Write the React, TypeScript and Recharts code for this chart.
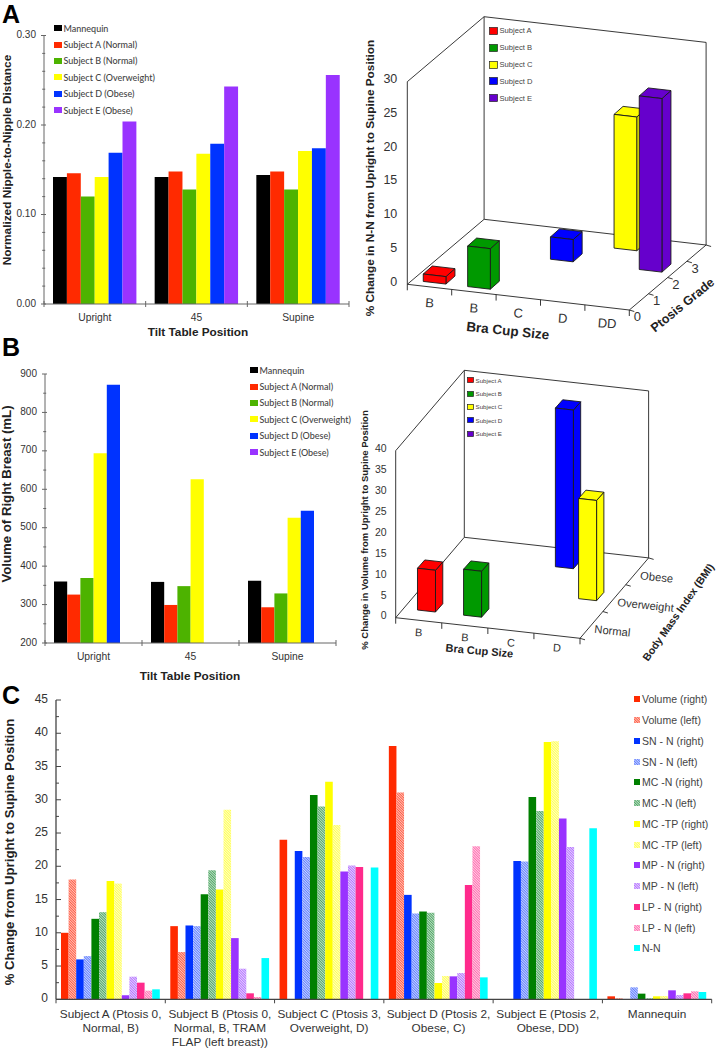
import React from 'react';
import { Bar, BarChart, Legend, XAxis, YAxis } from 'recharts';

const SANS = '"Liberation Sans", Arial, sans-serif';
const LEGEND_FONT = 'Lato, "Open Sans", sans-serif';

// panels A and B, left side
const POSITIONS = ['Upright', '45', 'Supine'];
const SUBJECTS = ['Mannequin', 'Subject A (Normal)', 'Subject B (Normal)', 'Subject C (Overweight)', 'Subject D (Obese)', 'Subject E (Obese)'];
const SUBJECT_COLORS = ['#000000', '#ff2a00', '#4db300', '#ffff00', '#0033ff', '#9933ff'];

const nnMannequin = [0.142, 0.142, 0.144];
const nnSubjectA = [0.146, 0.148, 0.148];
const nnSubjectB = [0.12, 0.128, 0.128];
const nnSubjectC = [0.142, 0.168, 0.171];
const nnSubjectD = [0.169, 0.179, 0.174];
const nnSubjectE = [0.204, 0.243, 0.256];
const NN_TICKS = [0, 0.02, 0.04, 0.06, 0.08, 0.1, 0.12, 0.14, 0.16, 0.18, 0.2, 0.22, 0.24, 0.26, 0.28, 0.3];
const NN_MAJOR = [0, 0.1, 0.2, 0.3];

const volMannequin = [360, 359, 362];
const volSubjectA = [326, 299, 293];
const volSubjectB = [369, 348, 329];
const volSubjectC = [694, 626, 526];
const volSubjectD = [872, null, 544];
const volSubjectE = [null, null, null];
const VOL_TICKS = [200, 250, 300, 350, 400, 450, 500, 550, 600, 650, 700, 750, 800, 850, 900];
const VOL_MAJOR = [200, 300, 400, 500, 600, 700, 800, 900];

// panel C
const CHANGE_GROUPS = [
  'Subject A (Ptosis 0,\nNormal, B)',
  'Subject B (Ptosis 0,\nNormal, B, TRAM\nFLAP (left breast))',
  'Subject C (Ptosis 3,\nOverweight, D)',
  'Subject D (Ptosis 2,\nObese, C)',
  'Subject E (Ptosis 2,\nObese, DD)',
  'Mannequin',
];
const MEASURES = ['Volume (right)', 'Volume (left)', 'SN - N (right)', 'SN - N (left)', 'MC -N (right)', 'MC -N (left)', 'MC -TP (right)', 'MC -TP (left)', 'MP - N (right)', 'MP - N (left)', 'LP - N (right)', 'LP - N (left)', 'N-N'];
const MEASURE_FILLS = ['#ff2a00', 'url(#hatch-red)', '#0033ff', 'url(#hatch-blue)', '#008000', 'url(#hatch-green)', '#ffff00', 'url(#hatch-yellow)', '#9933ff', 'url(#hatch-purple)', '#ff2a8c', 'url(#hatch-pink)', '#00ffff'];
const HATCHES = [
  ['hatch-red', '#ff5a44', '#ffc4b8'],
  ['hatch-blue', '#5f7dff', '#c9d4ff'],
  ['hatch-green', '#4fa565', '#bfe0c6'],
  ['hatch-yellow', '#ffff55', '#ffffc4'],
  ['hatch-purple', '#b473ff', '#e6d2ff'],
  ['hatch-pink', '#ff6db0', '#ffcfe4'],
];

const volumeRight = [10, 11, 24, 38.1, null, 0.45];
const volumeLeft = [18, 7.1, null, 31.1, null, 0.15];
const snRight = [6, 11.1, 22.3, 15.7, 20.8, 0.05];
const snLeft = [6.5, 11, 21.4, 12.9, 20.7, 1.8];
const mcRight = [12.1, 15.8, 30.7, 13.2, 30.4, 0.85];
const mcLeft = [13.1, 19.4, 29, 13, 28.3, 0.15];
const tpRight = [17.8, 16.5, 32.7, 2.45, 38.7, 0.45];
const tpLeft = [17.4, 28.5, 26.2, 3.5, 38.8, 0.5];
const mpRight = [0.6, 9.2, 19.2, 3.45, 27.2, 1.35];
const mpLeft = [3.4, 4.6, 20.1, 3.95, 22.9, 0.65];
const lpRight = [2.5, 0.9, 19.9, 17.2, null, 0.9];
const lpLeft = [1.3, 0.35, null, 23, null, 1.2];
const nnChange = [1.5, 6.2, 19.8, 3.3, 25.7, 1.1];
const CHANGE_TICKS = [0, 2.5, 5, 7.5, 10, 12.5, 15, 17.5, 20, 22.5, 25, 27.5, 30, 32.5, 35, 37.5, 40, 42.5, 45];
const CHANGE_MAJOR = [0, 5, 10, 15, 20, 25, 30, 35, 40, 45];

// 3D panels
const SUBJECT_KEY = ['Subject A', 'Subject B', 'Subject C', 'Subject D', 'Subject E'];
const SUBJECT_KEY_COLORS = ['#ff0000', '#009900', '#ffff00', '#0000ff', '#6600cc'];

const ptosisCups = ['B', 'B', 'C', 'D', 'DD'];
const ptosisChange = [1.1, 6, 3.3, 19.8, 25.7];
const ptosisLevel = [0, 0, 2, 3, 2];
const ptosisColors = ['#ff0000', '#009900', '#0000ff', '#ffff00', '#6600cc'];
const PTOSIS_GRADES = ['0', '1', '2', '3'];
const PTOSIS_TICKS = [0, 5, 10, 15, 20, 25, 30];

const bmiCups = ['B', 'B', 'C', 'D'];
const bmiChange = [10, 11, 38, 24];
const bmiLevel = [0, 0, 2, 1];
const bmiColors = ['#ff0000', '#009900', '#0000ff', '#ffff00'];
const BMI_GRADES = ['Normal', 'Overweight', 'Obese'];
const BMI_TICKS = [0, 5, 10, 15, 20, 25, 30, 35, 40];

const makeRows = (groups: string[], series: (number | null)[][]) =>
  groups.map((group, i) => {
    const row: any = { group };
    series.forEach((values, j) => {
      row[`s${j}`] = values[i];
    });
    return row;
  });

const Title = ({ x, y, angle = 0, size, children }: any) => (
  <text
    x={x}
    y={y}
    textAnchor="middle"
    dominantBaseline="middle"
    transform={angle ? `rotate(${angle} ${x} ${y})` : undefined}
    fontFamily={SANS}
    fontWeight="bold"
    fontSize={size}
    fill="#222"
  >
    {children}
  </text>
);

const SwatchLegend = ({ payload, rowHeight, swatchW, swatchH, gap, font, size, color, weight }: any) => (
  <div style={{ fontFamily: font, fontSize: size, color, fontWeight: weight, whiteSpace: 'nowrap' }}>
    {payload.map((entry: any) => (
      <div key={entry.value} style={{ display: 'flex', alignItems: 'center', height: rowHeight }}>
        <svg width={swatchW} height={swatchH} style={{ marginRight: gap, display: 'block' }}>
          <rect width={swatchW} height={swatchH} fill={entry.color} />
        </svg>
        {entry.value}
      </div>
    ))}
  </div>
);

const FlatChart = ({ width, height, plot, rows, names, fills, domain, ticks, major, format, barSize, legend, legendBox, tickStyle, children }: any) => {
  const band = (plot.right - plot.left) / rows.length;
  const yTick = ({ x, y, payload }: any) => {
    const isMajor = major.includes(payload.value);
    return (
      <g>
        <line
          x1={x + tickStyle.yIn * (isMajor ? 1 : 0.6)}
          x2={x - tickStyle.yOut * (isMajor ? 1 : 0.6)}
          y1={y}
          y2={y}
          stroke={tickStyle.color}
        />
        {isMajor && (
          <text x={x - tickStyle.yGap} y={y} textAnchor="end" dominantBaseline="middle" fontFamily={SANS} fontSize={tickStyle.yFont} fill="#333">
            {format(payload.value)}
          </text>
        )}
      </g>
    );
  };
  const xTick = ({ x, y, payload, index }: any) => (
    <g>
      <line x1={x - band / 2} x2={x - band / 2} y1={y - tickStyle.xUp} y2={y + tickStyle.xDown} stroke={tickStyle.color} />
      {index === rows.length - 1 && (
        <line x1={x + band / 2} x2={x + band / 2} y1={y - tickStyle.xUp} y2={y + tickStyle.xDown} stroke={tickStyle.color} />
      )}
      <text textAnchor="middle" fontFamily={SANS} fontSize={tickStyle.xFont} fill="#333">
        {String(payload.value)
          .split('\n')
          .map((line, i) => (
            <tspan key={line} x={x} y={y + tickStyle.xBase + i * tickStyle.xLine}>
              {line}
            </tspan>
          ))}
      </text>
    </g>
  );
  return (
    <BarChart
      width={width}
      height={height}
      data={rows}
      barGap={0}
      barSize={barSize}
      margin={{ top: plot.top, right: width - plot.right, bottom: 0, left: 0 }}
    >
      {children}
      <XAxis
        dataKey="group"
        height={height - plot.bottom}
        interval={0}
        tickSize={0}
        tickMargin={0}
        tickLine={false}
        tick={xTick}
        axisLine={{ stroke: tickStyle.color, strokeWidth: tickStyle.axisWidth }}
      />
      <YAxis
        type="number"
        width={plot.left}
        domain={domain}
        ticks={ticks}
        interval={0}
        tickSize={0}
        tickMargin={0}
        tickLine={false}
        tick={yTick}
        axisLine={{ stroke: tickStyle.color, strokeWidth: tickStyle.axisWidth }}
      />
      <Legend
        layout="vertical"
        align="center"
        verticalAlign="middle"
        itemSorter={null}
        wrapperStyle={legendBox}
        content={(props: any) => <SwatchLegend {...props} {...legend} />}
      />
      {names.map((name: string, i: number) => (
        <Bar key={name} dataKey={`s${i}`} name={name} fill={fills[i]} isAnimationActive={false} />
      ))}
    </BarChart>
  );
};

const Box3D = ({ x, y, width, height, index, view, levels, colors }: any) => {
  const center = x + width / 2;
  const slope = view.drop / view.width;
  const lvl = levels[index] + 0.5;
  const floorX = center + lvl * view.depth[0];
  const floorY = y + height + (center - view.x) * slope + lvl * view.depth[1];
  const bw = view.boxWidth;
  const [bx, by] = view.boxDepth;
  const fx = floorX - bw / 2 - bx / 2;
  const fy = floorY - (bw / 2) * slope - by / 2;
  const rx = fx + bw;
  const ry = fy + bw * slope;
  const h = height;
  const common = { fill: colors[index], stroke: '#1a1a1a', strokeWidth: 0.9, strokeLinejoin: 'round' as const };
  return (
    <g>
      <polygon {...common} points={`${rx},${ry} ${rx + bx},${ry + by} ${rx + bx},${ry + by - h} ${rx},${ry - h}`} />
      <polygon {...common} points={`${fx},${fy - h} ${rx},${ry - h} ${rx + bx},${ry + by - h} ${fx + bx},${fy + by - h}`} />
      <polygon {...common} points={`${fx},${fy} ${rx},${ry} ${rx},${ry - h} ${fx},${fy - h}`} />
    </g>
  );
};

const Frame3D = ({ view, grades }: any) => {
  const { x, y, top, width, drop, depth } = view;
  const tall = y - top;
  const n = grades.length;
  const bx = x + depth[0] * n;
  const by = y + depth[1] * n;
  const rx = x + width;
  const ry = y + drop;
  const edges = [
    [x, y, x, top],
    [x, y, bx, by],
    [bx, by, bx, by - tall],
    [x, top, bx, by - tall],
    [bx, by - tall, bx + width, by + drop - tall],
    [bx + width, by + drop - tall, bx + width, by + drop],
    [bx, by, bx + width, by + drop],
    [x, y, rx, ry],
    [rx, ry, bx + width, by + drop],
  ];
  return (
    <g>
      {edges.map((e, i) => (
        <line key={i} x1={e[0]} y1={e[1]} x2={e[2]} y2={e[3]} stroke="#222" strokeWidth={0.9} />
      ))}
      {[...grades, ''].map((_: string, i: number) => (
        <line
          key={i}
          x1={rx + i * depth[0]}
          y1={ry + i * depth[1]}
          x2={rx + i * depth[0] + 5}
          y2={ry + i * depth[1] + 1.5}
          stroke="#222"
          strokeWidth={0.9}
        />
      ))}
      {grades.map((grade: string, i: number) => {
        const gx = rx + (i + 0.5) * depth[0] + view.gradeOffset[0];
        const gy = ry + (i + 0.5) * depth[1] + view.gradeOffset[1];
        return (
          <text
            key={grade}
            x={gx}
            y={gy}
            textAnchor={view.gradeAnchor}
            dominantBaseline="middle"
            transform={view.gradeAngle ? `rotate(${view.gradeAngle} ${gx} ${gy})` : undefined}
            fontFamily={SANS}
            fontSize={view.gradeFont}
            fill="#333"
          >
            {grade}
          </text>
        );
      })}
    </g>
  );
};

const KeyList = ({ box }: any) => (
  <div style={{ fontFamily: SANS, fontSize: box.font, color: '#444', whiteSpace: 'nowrap' }}>
    {SUBJECT_KEY.map((name, i) => (
      <div key={name} style={{ display: 'flex', alignItems: 'center', height: box.row }}>
        <svg width={box.swatch} height={box.swatch - 1} style={{ marginRight: box.gap, display: 'block' }}>
          <rect x={0.5} y={0.5} width={box.swatch - 1} height={box.swatch - 2} fill={SUBJECT_KEY_COLORS[i]} stroke="#222" strokeWidth={0.7} />
        </svg>
        {name}
      </div>
    ))}
  </div>
);

const Chart3D = ({ width, height, view, cups, values, levels, colors, grades, ticks, box, barSize, children }: any) => {
  const slope = view.drop / view.width;
  const band = view.width / cups.length;
  const rows = cups.map((cup: string, i: number) => ({ cup, change: values[i] }));
  const yTick = ({ x, y, payload }: any) => (
    <text x={x - view.yGap} y={y - view.yLift} textAnchor="end" dominantBaseline="middle" fontFamily={SANS} fontSize={view.yFont} fill="#333">
      {payload.value}
    </text>
  );
  const xTick = ({ x, y, payload, index }: any) => {
    const lx = x - band / 2;
    const ly = y + (lx - view.x) * slope;
    const cy = y + (x - view.x) * slope + view.cupGap;
    return (
      <g>
        <line x1={lx} x2={lx} y1={ly} y2={ly + 6} stroke="#222" strokeWidth={0.9} />
        {index === cups.length - 1 && (
          <line x1={lx + band} x2={lx + band} y1={ly + band * slope} y2={ly + band * slope + 6} stroke="#222" strokeWidth={0.9} />
        )}
        <text x={x} y={cy} textAnchor="middle" dominantBaseline="middle" transform={`rotate(4 ${x} ${cy})`} fontFamily={SANS} fontSize={view.cupFont} fill="#333">
          {payload.value}
        </text>
      </g>
    );
  };
  return (
    <BarChart
      width={width}
      height={height}
      data={rows}
      barSize={barSize}
      margin={{ top: view.top, right: width - view.x - view.width, bottom: 0, left: 0 }}
    >
      <Frame3D view={view} grades={grades} />
      <XAxis dataKey="cup" height={height - view.y} interval={0} tickSize={0} tickMargin={0} tickLine={false} axisLine={false} tick={xTick} />
      <YAxis
        type="number"
        width={view.x}
        domain={[0, ticks[ticks.length - 1]]}
        ticks={ticks}
        interval={0}
        tickSize={0}
        tickMargin={0}
        tickLine={false}
        axisLine={false}
        tick={yTick}
      />
      <Legend
        layout="vertical"
        align="center"
        verticalAlign="middle"
        wrapperStyle={{ left: box.left, top: box.top, width: 70 }}
        content={() => <KeyList box={box} />}
      />
      <Bar
        dataKey="change"
        isAnimationActive={false}
        shape={(props: any) => <Box3D {...props} view={view} levels={levels} colors={colors} />}
      />
      {children}
    </BarChart>
  );
};

const panel = (left: number, top: number): React.CSSProperties => ({ position: 'absolute', left, top });
const letter = (top: number): React.CSSProperties => ({
  position: 'absolute',
  left: 2,
  top,
  fontFamily: SANS,
  fontWeight: 'bold',
  fontSize: 25,
  lineHeight: '29px',
  color: '#000',
});

const topTickStyle = { color: '#666', axisWidth: 1, yIn: 2, yOut: 3, yGap: 8, yFont: 10, xUp: 3, xDown: 3, xFont: 10.3, xBase: 17, xLine: 13 };
const changeTickStyle = { color: '#444', axisWidth: 1.3, yIn: 5, yOut: 0, yGap: 8, yFont: 12, xUp: 0, xDown: 4, xFont: 11.8, xBase: 19, xLine: 14 };
const topLegend = { rowHeight: 16.4, swatchW: 8, swatchH: 6, gap: 1.5, font: LEGEND_FONT, size: 9, color: '#444', weight: 500 };
const changeLegend = { rowHeight: 20.75, swatchW: 6, swatchH: 6, gap: 2, font: SANS, size: 10.5, color: '#444', weight: 400 };

const ptosisView = {
  x: 57.3, y: 284.3, top: 81.7, width: 222, drop: 25.7, depth: [19.2, -16.25],
  boxWidth: 22.7, boxDepth: [9, -8], yGap: 10, yLift: 2, yFont: 12.5, cupFont: 13, cupGap: 17,
  gradeOffset: [-1.5, 16], gradeAnchor: 'middle', gradeAngle: 0, gradeFont: 13,
};
const bmiView = {
  x: 45.7, y: 277.7, top: 110.7, width: 184.3, drop: 20.6, depth: [22.87, -26.8],
  boxWidth: 18, boxDepth: [7.3, -8.3], yGap: 9, yLift: 1, yFont: 10.5, cupFont: 11, cupGap: 13,
  gradeOffset: [3, 5], gradeAnchor: 'start', gradeAngle: 6, gradeFont: 11.2,
};

export default function App() {
  const nnRows = makeRows(POSITIONS, [nnMannequin, nnSubjectA, nnSubjectB, nnSubjectC, nnSubjectD, nnSubjectE]);
  const volRows = makeRows(POSITIONS, [volMannequin, volSubjectA, volSubjectB, volSubjectC, volSubjectD, volSubjectE]);
  const changeRows = makeRows(CHANGE_GROUPS, [volumeRight, volumeLeft, snRight, snLeft, mcRight, mcLeft, tpRight, tpLeft, mpRight, mpLeft, lpRight, lpLeft, nnChange]);
  return (
    <div style={{ position: 'absolute', left: 0, top: 0, width: 716, height: 1050, background: '#fff', overflow: 'hidden' }}>
      <div style={panel(0, 0)}>
        <FlatChart
          width={350}
          height={344}
          plot={{ left: 44, top: 35.5, right: 349, bottom: 304 }}
          rows={nnRows}
          names={SUBJECTS}
          fills={SUBJECT_COLORS}
          domain={[0, 0.3]}
          ticks={NN_TICKS}
          major={NN_MAJOR}
          format={(v: number) => v.toFixed(2)}
          barSize={13.9}
          legend={topLegend}
          legendBox={{ left: 54, top: 20, width: 120 }}
          tickStyle={topTickStyle}
        >
          <Title x={7.5} y={160} angle={-90} size={11.8}>Normalized Nipple-to-Nipple Distance</Title>
          <Title x={198} y={333} size={11.8}>Tilt Table Position</Title>
        </FlatChart>
      </div>
      <div style={panel(350, 0)}>
        <Chart3D
          width={366}
          height={352}
          view={ptosisView}
          cups={ptosisCups}
          values={ptosisChange}
          levels={ptosisLevel}
          colors={ptosisColors}
          grades={PTOSIS_GRADES}
          ticks={PTOSIS_TICKS}
          barSize={22.4}
          box={{ left: 138.5, top: 22.5, row: 16.85, swatch: 9, gap: 2, font: 7.6 }}
        >
          <Title x={20.7} y={178} angle={-90} size={11.8}>% Change in N-N from Upright to Supine Position</Title>
          <Title x={157.7} y={331.7} angle={6} size={13.5}>Bra Cup Size</Title>
          <Title x={333} y={305.7} angle={-39} size={12.6}>Ptosis Grade</Title>
        </Chart3D>
      </div>
      <div style={panel(0, 340)}>
        <FlatChart
          width={350}
          height={348}
          plot={{ left: 45, top: 34, right: 336, bottom: 303 }}
          rows={volRows}
          names={SUBJECTS}
          fills={SUBJECT_COLORS}
          domain={[200, 900]}
          ticks={VOL_TICKS}
          major={VOL_MAJOR}
          format={(v: number) => String(v)}
          barSize={13.2}
          legend={topLegend}
          legendBox={{ left: 250, top: 22, width: 110 }}
          tickStyle={topTickStyle}
        >
          <Title x={8} y={154} angle={-90} size={13.2}>Volume of Right Breast (mL)</Title>
          <Title x={190} y={337} size={11.8}>Tilt Table Position</Title>
        </FlatChart>
      </div>
      <div style={panel(350, 340)}>
        <Chart3D
          width={366}
          height={340}
          view={bmiView}
          cups={bmiCups}
          values={bmiChange}
          levels={bmiLevel}
          colors={bmiColors}
          grades={BMI_GRADES}
          ticks={BMI_TICKS}
          barSize={18}
          box={{ left: 117, top: 33.5, row: 13.4, swatch: 7, gap: 1.5, font: 6.2 }}
        >
          <Title x={15} y={190} angle={-90} size={9.5}>% Change in Volume from Upright to Supine Position</Title>
          <Title x={129.3} y={311.7} angle={5} size={11}>Bra Cup Size</Title>
          <Title x={329} y={272.7} angle={-55} size={10.6}>Body Mass Index (BMI)</Title>
        </Chart3D>
      </div>
      <div style={panel(0, 685)}>
        <FlatChart
          width={716}
          height={365}
          plot={{ left: 56, top: 15, right: 711.7, bottom: 314.3 }}
          rows={changeRows}
          names={MEASURES}
          fills={MEASURE_FILLS}
          domain={[0, 45]}
          ticks={CHANGE_TICKS}
          major={CHANGE_MAJOR}
          format={(v: number) => String(v)}
          barSize={7.6}
          legend={changeLegend}
          legendBox={{ left: 634, top: 4, width: 85 }}
          tickStyle={changeTickStyle}
        >
          <defs>
            {HATCHES.map(([id, color, tint]) => (
              <pattern key={id} id={id} width={1.8} height={1.8} patternUnits="userSpaceOnUse" patternTransform="rotate(-45)">
                <rect width={1.8} height={1.8} fill={tint} />
                <rect width={0.9} height={1.8} fill={color} />
              </pattern>
            ))}
          </defs>
          <Title x={10.5} y={167} angle={-90} size={13.2}>% Change from Upright to Supine Position</Title>
        </FlatChart>
      </div>
      <div style={letter(0)}>A</div>
      <div style={letter(333)}>B</div>
      <div style={letter(681)}>C</div>
    </div>
  );
}
